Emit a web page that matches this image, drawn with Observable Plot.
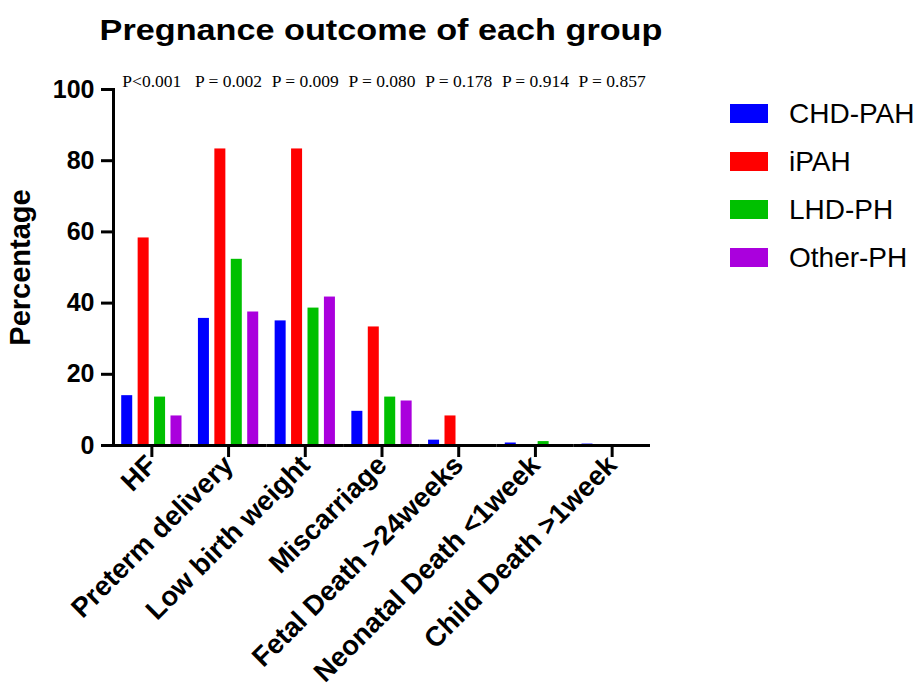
<!DOCTYPE html>
<html><head><meta charset="utf-8">
<script src="https://cdn.jsdelivr.net/npm/d3@7"></script>
<script src="https://cdn.jsdelivr.net/npm/@observablehq/plot@0.6"></script>
<style>
html,body{margin:0;padding:0;background:#fff;}
#wrap{position:relative;width:919px;height:699px;overflow:hidden;font-family:"Liberation Sans",Arial,sans-serif;color:#000;}
#chart{position:absolute;left:0;top:0;}
#title{position:absolute;left:381px;top:16px;font-size:29px;line-height:29px;font-weight:bold;white-space:nowrap;transform:translateX(-50%) scaleX(1.18);}
.sw{position:absolute;left:730px;width:38px;height:19px;}
.lt{position:absolute;left:789px;font-size:28px;line-height:28px;white-space:nowrap;}
#wrap svg [aria-label="y-axis tick label"], #wrap svg [aria-label="y-axis tick label"] text{font-size:25px;font-weight:bold;}
#wrap svg [aria-label="fx-axis tick label"], #wrap svg [aria-label="fx-axis tick label"] text{font-size:27.5px;font-weight:bold;}
#wrap svg [aria-label="y-axis label"], #wrap svg [aria-label="y-axis label"] text{font-size:29px;font-weight:bold;}
</style>
</head><body>
<div id="wrap">
  <div id="chart"></div>
  <div id="title">Pregnance outcome of each group</div>
  <div id="legend"></div>
</div>
<script>
const categories = ["HF", "Preterm delivery", "Low birth weight", "Miscarriage", "Fetal Death >24weeks", "Neonatal Death <1week", "Child Death >1week"];
const groups = ["CHD-PAH", "iPAH", "LHD-PH", "Other-PH"];
const chdPah  = [14.0, 35.7, 35.0, 9.6, 1.5, 0.7, 0.4];
const iPah    = [58.3, 83.3, 83.3, 33.3, 8.3, 0, 0];
const lhdPh   = [13.6, 52.3, 38.6, 13.6, 0, 1.1, 0];
const otherPh = [8.3, 37.5, 41.7, 12.5, 0, 0, 0];
const pValues = ["P<0.001", "P = 0.002", "P = 0.009", "P = 0.080", "P = 0.178", "P = 0.914", "P = 0.857"];
const yTicks = [0, 20, 40, 60, 80, 100];
const colors = ["#0000ff", "#ff0000", "#00c000", "#aa00dd"];

const series = [chdPah, iPah, lhdPh, otherPh];
const rows = categories.flatMap((c, i) => groups.map((g, j) => ({category: c, group: g, value: series[j][i]})));
const pRows = categories.map((c, i) => ({category: c, p: pValues[i]}));

const chart = Plot.plot({
  width: 919,
  height: 699,
  marginTop: 89,
  marginRight: 269,
  marginBottom: 254,
  marginLeft: 113,
  style: {fontFamily: '"Liberation Sans", Arial, sans-serif', background: "transparent", color: "#000", overflow: "visible"},
  fx: {domain: categories, padding: 0, round: false, label: null, axis: "bottom", tickRotate: -45, tickSize: 12, tickPadding: 3},
  x: {domain: groups, paddingInner: 0.33, paddingOuter: 0.5, round: false, axis: null},
  y: {domain: [0, 100], ticks: yTicks, tickSize: 12, tickPadding: 7, line: true, label: "Percentage", labelAnchor: "center", labelOffset: 104, labelArrow: "none"},
  color: {domain: groups, range: colors},
  marks: [
    Plot.barY(rows, {fx: "category", x: "group", y: "value", fill: "group"}),
    Plot.ruleY([0], {stroke: "#000", strokeWidth: 3}),
    Plot.text(pRows, {fx: "category", text: "p", frameAnchor: "top", dy: -15, fontFamily: '"Liberation Serif", "Times New Roman", serif', fontSize: 17.5, fill: "#000"})
  ]
});
document.getElementById("chart").appendChild(chart);
chart.querySelectorAll("line, path").forEach(e => { e.style.strokeWidth = "3px"; e.style.stroke = "#000"; });

const color = chart.scale("color");
const legend = document.getElementById("legend");
groups.forEach((g, i) => {
  const cy = 113.5 + 48 * i;
  const sw = document.createElement("div");
  sw.className = "sw";
  sw.style.top = (cy - 9.5) + "px";
  sw.style.background = color.apply(g);
  legend.appendChild(sw);
  const t = document.createElement("div");
  t.className = "lt";
  t.style.top = (cy - 13.7) + "px";
  t.textContent = g;
  legend.appendChild(t);
});
</script>
</body></html>
